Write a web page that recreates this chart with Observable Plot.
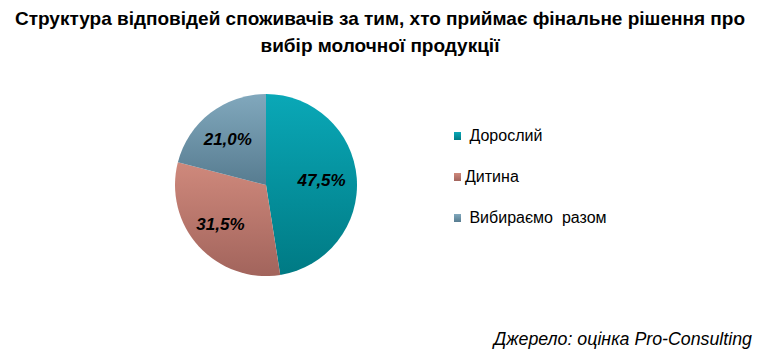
<!DOCTYPE html>
<html>
<head>
<meta charset="utf-8">
<script src="https://cdn.jsdelivr.net/npm/d3@7"></script>
<script src="https://cdn.jsdelivr.net/npm/@observablehq/plot@0.6"></script>
<style>
  body { margin: 0; width: 776px; height: 360px; position: relative; background: #fff; overflow: hidden;
         font-family: "Liberation Sans", Arial, sans-serif; color: #000; }
  #title { position: absolute; top: 5px; left: 0; width: 760px; text-align: center; font-weight: bold;
           font-size: 19px; line-height: 27px; }
  #chart { position: absolute; top: 60px; left: 0; }
  .lg { position: absolute; left: 454px; font-size: 16px; line-height: 16px; white-space: pre; }
  .lg .sw { display: inline-block; width: 7px; height: 8px; margin-right: 4px; vertical-align: 1px; }
  #caption { position: absolute; right: 24px; top: 330px; font-size: 17.8px; line-height: 18px; font-style: italic; white-space: pre; }
</style>
</head>
<body>
<div id="title">Структура відповідей споживачів за тим, хто приймає фінальне рішення про<br>вибір молочної продукції</div>
<div id="chart"></div>
<div id="legend"></div>
<div id="caption">Джерело: оцінка Pro-Consulting</div>
<script>
// ---- data ----
const categories = [" Дорослий", "Дитина", " Вибираємо  разом"];
const values = [47.5, 31.5, 21.0];
const valueLabels = ["47,5%", "31,5%", "21,0%"];
// ---- palette ----
const colorsTop = ["#0aa8b7", "#cf897c", "#81a8bd"];
const colorsBottom = ["#007a84", "#a2645c", "#577c90"];

// ---- layout ----
const W = 776, H = 260;
const CX = 266, CY = 125, R = 91;
const LABEL_R = 0.64;
const legendTops = [128, 169, 210];

const data = categories.map((c, i) => ({category: c, value: values[i], label: valueLabels[i]}));
const arcs = d3.pie().value(d => d.value).sort(null)(data);
arcs.forEach(a => {
  const mid = (a.startAngle + a.endAngle) / 2;
  a.data.lx = LABEL_R * Math.sin(mid);
  a.data.ly = LABEL_R * Math.cos(mid);
});

function pieMark(index, scales) {
  const X = scales.x, Y = scales.y;
  const x0 = X(0), y0 = Y(0), r = X(1) - X(0);
  const g = d3.create("svg:g");
  const defs = g.append("defs");
  arcs.forEach((a, i) => {
    const lg = defs.append("linearGradient").attr("id", "grad" + i)
      .attr("x1", 0).attr("y1", 0).attr("x2", 0).attr("y2", 1);
    const top = scales.color ? scales.color(a.data.category) : colorsTop[i];
    lg.append("stop").attr("offset", "0%").attr("stop-color", top);
    lg.append("stop").attr("offset", "100%").attr("stop-color", colorsBottom[i]);
  });
  const arcGen = d3.arc().innerRadius(0).outerRadius(r);
  g.append("g").attr("transform", `translate(${x0},${y0})`)
    .selectAll("path").data(arcs).join("path")
    .attr("d", arcGen)
    .attr("fill", (d, i) => `url(#grad${i})`);
  return g.node();
}

const chart = Plot.plot({
  width: W, height: H, margin: 0,
  style: {background: "transparent", overflow: "visible"},
  x: {domain: [-1, 1], range: [CX - R, CX + R], axis: null},
  y: {domain: [-1, 1], range: [CY + R, CY - R], axis: null},
  color: {domain: categories, range: colorsTop},
  marks: [
    Plot.dot(data, {x: 0, y: 0, r: 0, fill: "category"}),
    pieMark,
    Plot.text(data, {x: "lx", y: "ly", text: "label", fontSize: 17, fontWeight: "bold",
      fontStyle: "italic", fill: "#000", dx: -3, fontFamily: "Liberation Sans, Arial, sans-serif"})
  ]
});
document.getElementById("chart").appendChild(chart);

const legend = document.getElementById("legend");
categories.forEach((c, i) => {
  const row = document.createElement("div");
  row.className = "lg";
  row.style.top = legendTops[i] + "px";
  const sw = document.createElement("span");
  sw.className = "sw";
  sw.style.background = `linear-gradient(${colorsTop[i]}, ${colorsBottom[i]})`;
  row.appendChild(sw);
  row.appendChild(document.createTextNode(c));
  legend.appendChild(row);
});
</script>
</body>
</html>
